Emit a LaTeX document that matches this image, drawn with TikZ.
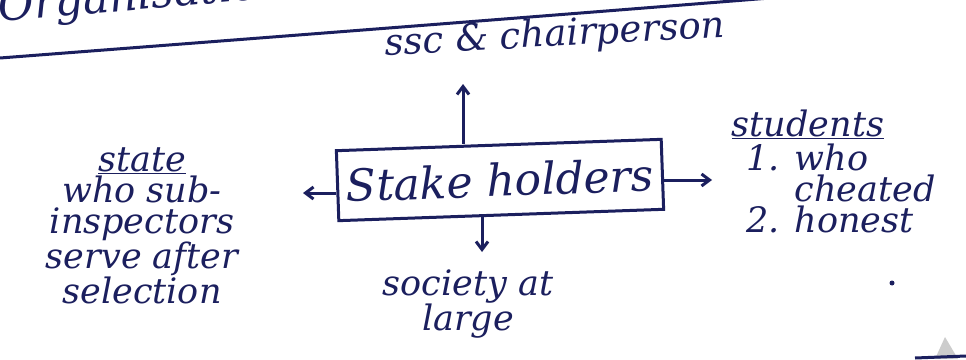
\documentclass[tikz,border=0pt]{standalone}
\usepackage{fontspec}
\setmainfont{DejaVu Serif}
\usepackage{tikz}
\usetikzlibrary{calc}
\usetikzlibrary{arrows.meta}
\definecolor{ink}{HTML}{1B1F5E}

\begin{document}
\begin{tikzpicture} [x=1pt,y=-1pt, line width=3pt, draw=ink, >={Straight Barb[length=8pt,width=12pt]},
  hand/.style={font=\fontsize{35}{31}\selectfont\itshape, inner sep=0pt, text=ink},
  bighand/.style={font=\fontsize{44}{44}\selectfont\itshape, inner sep=0pt, text=ink}]
\useasboundingbox (0,0) rectangle (966,359);
\clip (0,0) rectangle (966,359);
\fill[white] (0,0) rectangle (966,359);
% heading, cut at the top
\node[bighand, anchor=base west, rotate=5] (head) at (-2,22) {Organisation};
\coordinate (ruleL) at (0,58);
\coordinate (ruleR) at (770,-2);
\draw (ruleL) .. controls (260,38) and (520,18) .. (ruleR);
% centre box
\node[bighand, draw, minimum width=325pt, minimum height=70pt, rotate=2] (stake) at (500,180) {Stake holders};
\coordinate (upend) at (463,84);
\coordinate (downend) at (482,252);
\coordinate (leftend) at (303,193);
\coordinate (rightend) at (712,180);
\foreach \s/\e in {north/upend, south/downend}
 \draw[->] (stake.\s -| \e) -- (\e);
\foreach \s/\e in {west/leftend, east/rightend}
 \draw[->] (stake.\s |- \e) -- (\e);
% the four groups
\node[hand, font=\fontsize{37}{37}\selectfont\itshape, rotate=3] (ssc) at (555,36) {ssc \& chairperson};
\node[hand, align=center] (state) at (142,226) {\underline{state}\\who sub-\\inspectors\\serve after\\selection};
\node[hand] (students) at (808,124) {\underline{students}};
\node[hand, align=left, anchor=north west] (kinds) at (745,142) {1. who\\\phantom{1. }cheated\\2. honest};
\node[hand, align=center] (society) at (468,304) {society at\\large};
% marks on the page
\fill[ink] (892,283) circle (2.5);
\fill[gray!40] (935,359) -- (945,337) -- (958,359) -- cycle;
\draw (915,358) -- (966,356);
\end{tikzpicture}
\end{document}
